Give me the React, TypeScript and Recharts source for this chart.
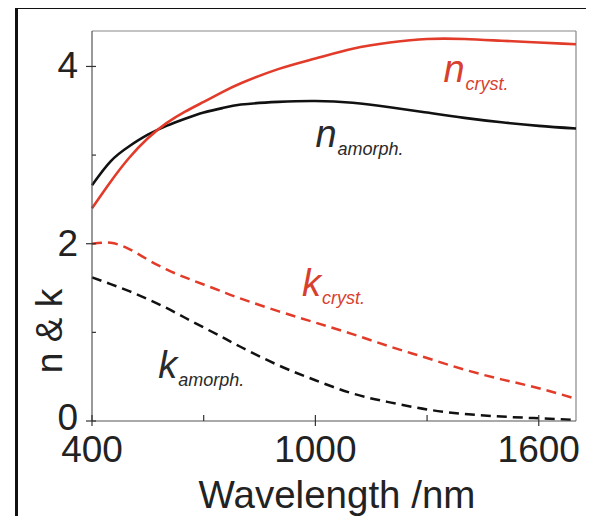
import React from "react";
import { LineChart, Line, XAxis, YAxis, ReferenceLine, ReferenceDot, Label } from "recharts";

const wavelength = [400, 450, 500, 550, 600, 650, 700, 750, 800, 900, 1000, 1100, 1200, 1300, 1400, 1500, 1600, 1700];
const nCryst = [2.4, 2.7, 2.97, 3.19, 3.36, 3.49, 3.6, 3.71, 3.81, 3.97, 4.09, 4.2, 4.27, 4.31, 4.31, 4.29, 4.27, 4.25];
const nAmorph = [2.66, 2.93, 3.1, 3.23, 3.33, 3.41, 3.48, 3.53, 3.57, 3.6, 3.61, 3.59, 3.54, 3.48, 3.42, 3.37, 3.33, 3.3];
const kCryst = [2.0, 2.01, 1.94, 1.82, 1.71, 1.62, 1.54, 1.46, 1.38, 1.24, 1.11, 0.98, 0.84, 0.71, 0.58, 0.47, 0.37, 0.25];
const kAmorph = [1.62, 1.545, 1.465, 1.375, 1.275, 1.165, 1.055, 0.945, 0.835, 0.63, 0.46, 0.31, 0.21, 0.13, 0.08, 0.05, 0.03, 0.01];

const xTicks = [400, 700, 1000, 1300, 1600];
const xMajor = [400, 1000, 1600];
const yTicks = [0, 1, 2, 3, 4];
const yMajor = [0, 2, 4];

const curveLabels = [
  { main: "n", sub: "cryst.", x: 1344, y: 3.82, red: true },
  { main: "n", sub: "amorph.", x: 1000, y: 3.09, red: false },
  { main: "k", sub: "cryst.", x: 964, y: 1.41, red: true },
  { main: "k", sub: "amorph.", x: 578, y: 0.49, red: false },
];

const RED = "#e23b2a";
const BLACK = "#111";
const FONT = "'Liberation Sans', Arial, sans-serif";

const data = wavelength.map((w, i) => ({
  w,
  nCryst: nCryst[i],
  nAmorph: nAmorph[i],
  kCryst: kCryst[i],
  kAmorph: kAmorph[i],
}));

const XTick = (props: any) => {
  const { x, y, payload } = props;
  const major = xMajor.includes(payload.value);
  return (
    <g>
      <line x1={x} x2={x} y1={major ? y + 5 : y} y2={y - 6} stroke="#333" strokeWidth={1.2} />
      {major && (
        <text x={x} y={y + 41} textAnchor="middle" fontSize={37} fontFamily={FONT} fill="#222">
          {payload.value}
        </text>
      )}
    </g>
  );
};

const YTick = (props: any) => {
  const { x, y, payload } = props;
  const major = yMajor.includes(payload.value);
  return (
    <g>
      <line x1={major ? x - 6 : x} x2={x + 4} y1={y} y2={y} stroke="#333" strokeWidth={1.2} />
      {major && (
        <text x={x - 14} y={y + (payload.value === 0 ? 9 : 12)} textAnchor="end" fontSize={37} fontFamily={FONT} fill="#222">
          {payload.value}
        </text>
      )}
    </g>
  );
};

export default function App() {
  return (
    <div style={{ position: "relative", margin: -8, width: 594, height: 524, overflow: "hidden", background: "#fff" }}>
      <div
        style={{
          position: "absolute",
          left: 15,
          top: 6,
          width: 640,
          height: 580,
          border: "3px solid #111",
        }}
      />
      <div style={{ position: "absolute", left: 0, top: 0 }}>
        <LineChart width={594} height={524} data={data} margin={{ top: 31, right: 18, bottom: 0, left: 0 }}>
          <XAxis
            dataKey="w"
            type="number"
            domain={[400, 1700]}
            ticks={xTicks}
            tick={<XTick />}
            tickSize={0}
            tickMargin={0}
            tickLine={false}
            axisLine={{ stroke: "#555", strokeWidth: 1.2 }}
            height={103}
            interval={0}
          >
            <Label
              content={() => (
                <text x={337} y={508} textAnchor="middle" fontSize={38.5} fontFamily={FONT} fill="#222">
                  Wavelength /nm
                </text>
              )}
            />
          </XAxis>
          <YAxis
            type="number"
            domain={[0, 4.4]}
            ticks={yTicks}
            tick={<YTick />}
            tickSize={0}
            tickMargin={0}
            tickLine={false}
            axisLine={{ stroke: "#555", strokeWidth: 1.2 }}
            width={92}
            interval={0}
          >
            <Label
              content={() => (
                <text
                  x={62}
                  y={331}
                  textAnchor="middle"
                  fontSize={37}
                  fontFamily={FONT}
                  fill="#222"
                  transform="rotate(-90, 62, 331)"
                >
                  n &amp; k
                </text>
              )}
            />
          </YAxis>
          <ReferenceLine y={4.4} stroke="#888" strokeWidth={1.2} />
          <ReferenceLine x={1700} stroke="#888" strokeWidth={1.2} />
          <Line type="natural" dataKey="kCryst" stroke={RED} strokeWidth={2.5} strokeDasharray="10 6" dot={false} isAnimationActive={false} />
          <Line type="natural" dataKey="kAmorph" stroke={BLACK} strokeWidth={2.5} strokeDasharray="10 6" dot={false} isAnimationActive={false} />
          <Line type="natural" dataKey="nAmorph" stroke={BLACK} strokeWidth={2.6} dot={false} isAnimationActive={false} />
          <Line type="natural" dataKey="nCryst" stroke={RED} strokeWidth={2.6} dot={false} isAnimationActive={false} />
          {curveLabels.map((l) => (
            <ReferenceDot
              key={l.main + l.sub}
              x={l.x}
              y={l.y}
              r={0}
              shape={(p: any) => (
                <text x={p.cx} y={p.cy} fontStyle="italic" fontFamily={FONT} fill={l.red ? "#d8402e" : "#2a2a2a"}>
                  <tspan fontSize={38}>{l.main}</tspan>
                  <tspan fontSize={18} dx={1} dy={8}>
                    {l.sub}
                  </tspan>
                </text>
              )}
            />
          ))}
        </LineChart>
      </div>
    </div>
  );
}
